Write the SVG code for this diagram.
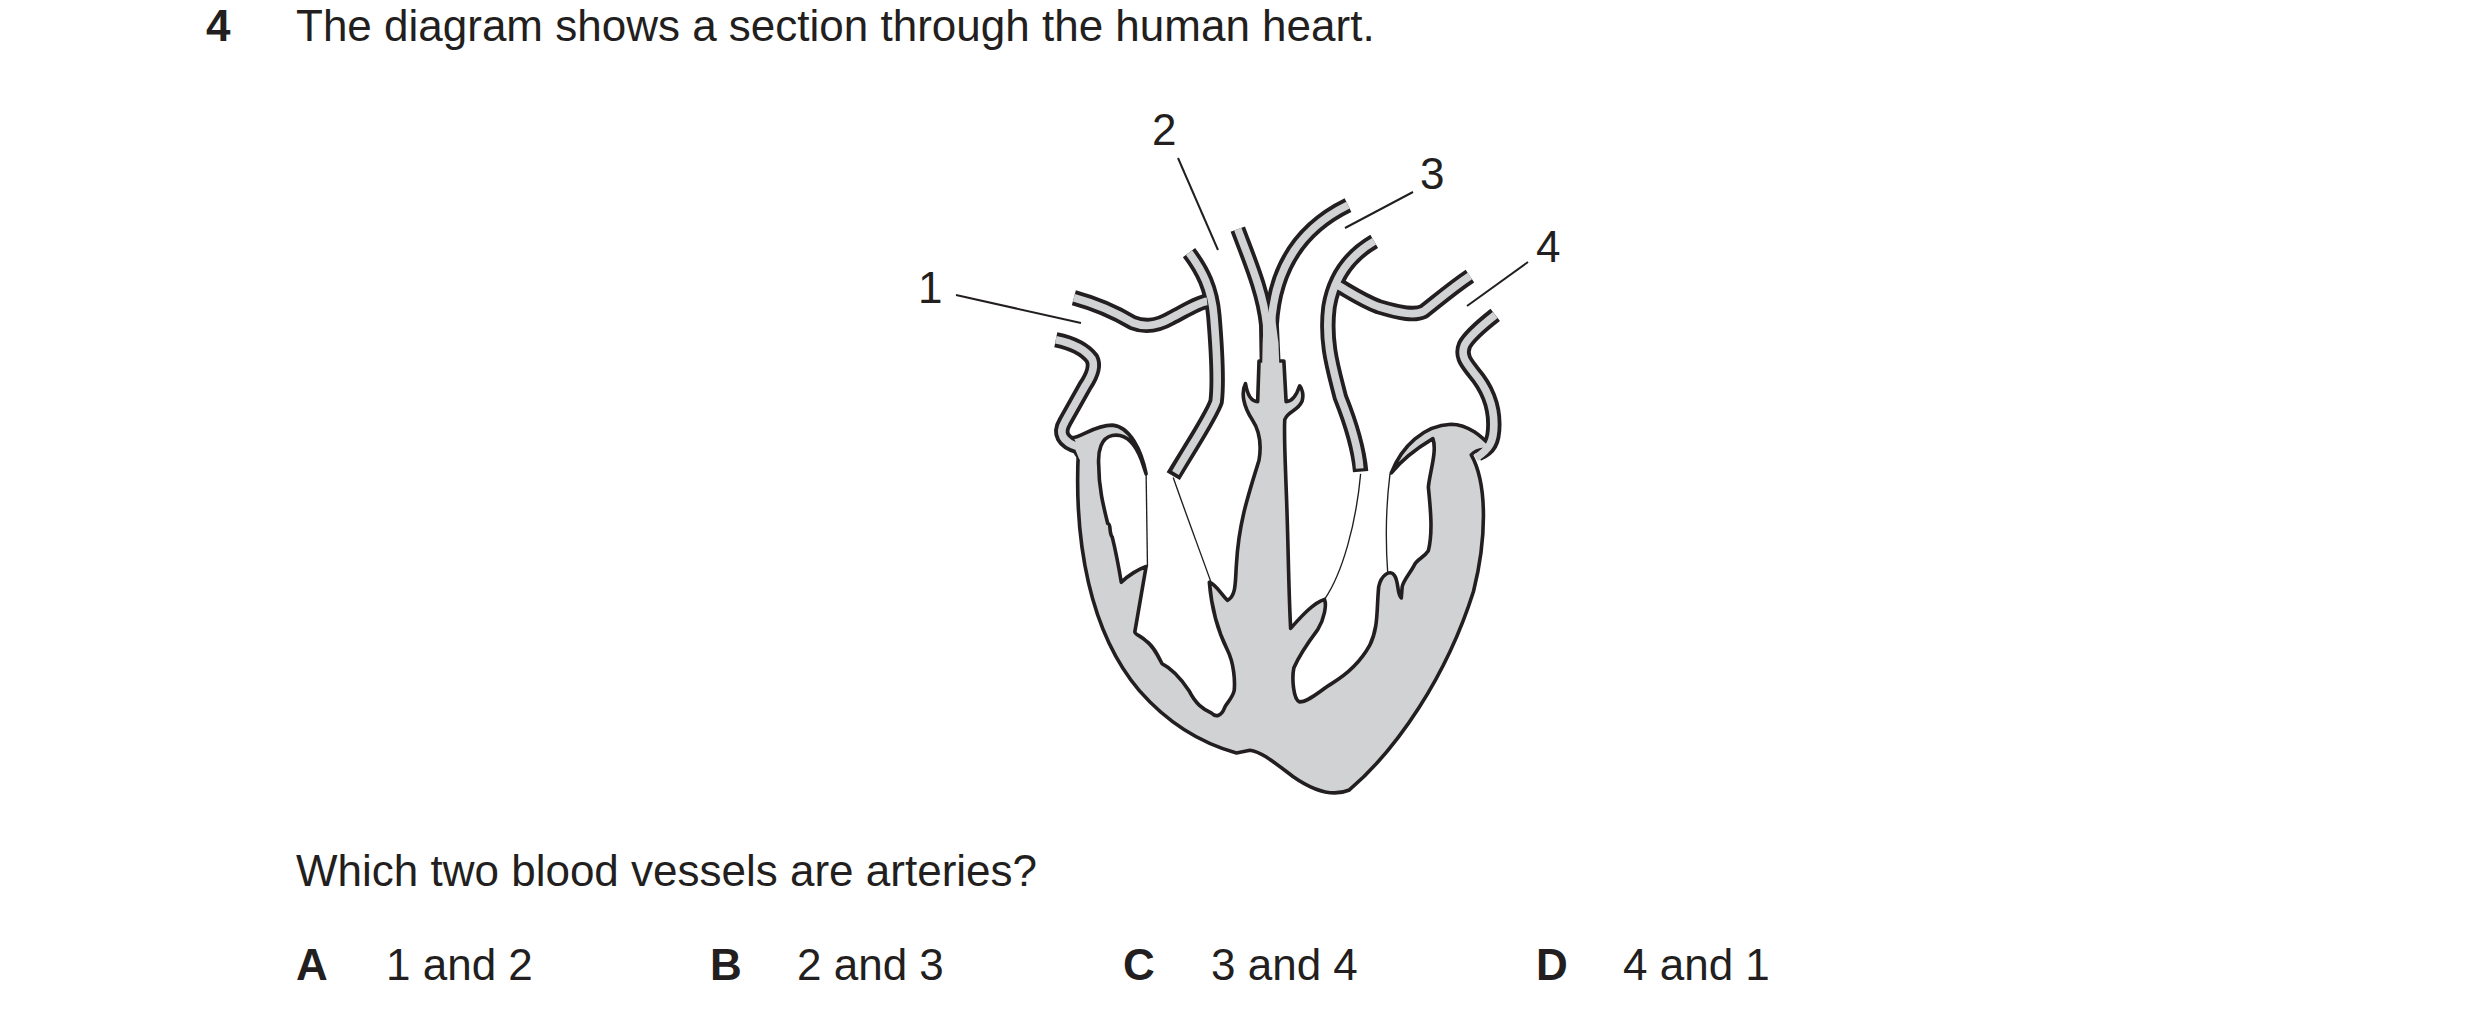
<svg xmlns="http://www.w3.org/2000/svg" width="2480" height="1023" viewBox="0 0 2480 1023">
<style>
.t{font-family:"Liberation Sans",Arial,sans-serif;font-size:44px;fill:#231f20}
.b{font-weight:bold}
.vb{fill:none;stroke:#231f20;stroke-width:34}
.vg{fill:none;stroke:#d1d2d4;stroke-width:17}
.ptr{stroke:#231f20;stroke-width:2}
.valve{fill:none;stroke:#231f20;stroke-width:3}
</style>
<rect width="2480" height="1023" fill="#fff"/>
<g id="question">
<text class="t b" x="206" y="41">4</text>
<text class="t" x="296" y="41">The diagram shows a section through the human heart.</text>
<text class="t" x="296" y="886">Which two blood vessels are arteries?</text>
</g>
<g id="heart" transform="translate(900,90) scale(0.4516)">
<g id="vessels-outline">
<path class="vb" d="M385,460 C440,475 490,500 515,515 C540,525 565,525 600,505 C630,490 660,470 680,468"/>
<path class="vb" d="M345,553 C380,560 410,575 425,595 C435,615 420,640 410,655 L365,735 C350,760 360,780 395,790 L405,805"/>
<path class="vb" d="M640,360 C670,400 690,440 695,500 C700,560 705,650 700,690 C690,720 650,780 605,855"/>
<path class="vb" d="M748,308 C775,380 805,450 812,520 L815,700"/>
<path class="vb" d="M992,255 C900,300 830,380 822,520 L830,700"/>
<path class="vb" d="M1050,335 C990,370 960,420 950,480 C940,560 960,620 975,680 C995,730 1015,790 1020,845"/>
<path class="vb" d="M1262,412 C1220,440 1180,475 1160,490 C1140,500 1110,495 1060,480 C1020,465 985,440 965,430"/>
<path class="vb" d="M1318,498 C1290,520 1260,545 1250,565 C1240,590 1255,605 1270,625 C1300,660 1315,700 1315,740 C1315,780 1305,795 1280,805"/>
</g>
<path id="body" fill="#d1d2d4" stroke="#231f20" stroke-width="8" stroke-linejoin="round" d="M395,800 C385,1000 420,1200 530,1330 C600,1410 680,1450 745,1468 L775,1462 C800,1465 830,1490 870,1520 C920,1555 960,1565 995,1550 C1100,1460 1210,1300 1270,1110 C1300,990 1300,870 1265,808 C1280,790 1300,800 1310,790 C1290,770 1260,740 1220,740 C1160,742 1110,790 1088,848 C1110,820 1150,790 1180,772 C1190,800 1172,850 1170,880 C1175,930 1180,980 1170,1020 C1160,1035 1145,1040 1140,1050 C1130,1070 1115,1085 1112,1100 L1110,1125 C1100,1115 1105,1090 1095,1075 C1085,1060 1065,1075 1060,1100 C1055,1150 1060,1190 1040,1230 C1015,1275 980,1300 955,1315 C930,1330 905,1355 885,1355 C870,1350 868,1300 872,1280 C885,1250 910,1215 925,1195 C940,1170 945,1140 940,1128 C915,1135 885,1170 865,1192 C860,1100 860,1000 855,880 C853,820 850,760 852,730 C860,710 880,712 890,690 C895,675 890,660 885,655 C880,670 870,690 855,690 L850,600 L795,600 L792,690 C780,690 770,680 765,650 C755,670 760,700 780,730 C800,760 800,790 795,820 C770,900 750,960 745,1050 C742,1090 745,1120 725,1130 C710,1115 700,1095 685,1090 C690,1150 705,1200 725,1240 C740,1270 742,1310 740,1330 C735,1350 720,1360 718,1370 C712,1385 700,1390 690,1380 C670,1370 655,1360 640,1330 C620,1300 600,1280 580,1270 C570,1250 560,1230 545,1220 C535,1210 520,1205 520,1200 L545,1055 C530,1060 505,1075 490,1090 C485,1060 480,1030 470,990 C462,980 468,960 460,960 C450,920 440,880 440,830 C438,800 445,770 470,765 C500,760 520,780 535,820 L545,850 C535,800 510,745 470,742 C430,742 400,770 380,770 Z"/>
<g id="vessels-fill">
<path class="vg" d="M385,460 C440,475 490,500 515,515 C540,525 565,525 600,505 C630,490 660,470 680,468"/>
<path class="vg" d="M345,553 C380,560 410,575 425,595 C435,615 420,640 410,655 L365,735 C350,760 360,780 395,790 L405,815"/>
<path class="vg" d="M640,360 C670,400 690,440 695,500 C700,560 705,650 700,690 C690,720 650,780 610,848"/>
<path class="vg" d="M748,308 C775,380 805,450 812,520 L815,700"/>
<path class="vg" d="M992,255 C900,300 830,380 822,520 L830,700"/>
<path class="vg" d="M1050,335 C990,370 960,420 950,480 C940,560 960,620 975,680 C995,730 1015,790 1018,838"/>
<path class="vg" d="M1262,412 C1220,440 1180,475 1160,490 C1140,500 1110,495 1060,480 C1020,465 985,440 965,430"/>
<path class="vg" d="M1318,498 C1290,520 1260,545 1250,565 C1240,590 1255,605 1270,625 C1300,660 1315,700 1315,740 C1315,780 1305,795 1275,815"/>
<polygon points="806,500 830,500 838,560 844,710 800,710 803,560" fill="#d1d2d4"/>
</g>
<g id="valves">
<path class="valve" d="M605,858 C630,930 660,1010 688,1088"/>
<path class="valve" d="M545,850 L548,1055"/>
<path class="valve" d="M1020,850 C1010,960 980,1070 940,1128"/>
<path class="valve" d="M1085,850 C1075,930 1075,1000 1080,1070"/>
</g>
</g>
<g id="labels">
<text class="t" x="918" y="303">1</text>
<text class="t" x="1152" y="145">2</text>
<text class="t" x="1420" y="189">3</text>
<text class="t" x="1536" y="262">4</text>
</g>
<g id="connectors">
<line class="ptr" x1="956" y1="295" x2="1081" y2="323"/>
<line class="ptr" x1="1178" y1="158" x2="1218" y2="250"/>
<line class="ptr" x1="1413" y1="192" x2="1345" y2="228"/>
<line class="ptr" x1="1528" y1="262" x2="1467" y2="306"/>
</g>
<g id="options">
<text class="t b" x="296" y="980">A</text>
<text class="t" x="386" y="980">1 and 2</text>
<text class="t b" x="710" y="980">B</text>
<text class="t" x="797" y="980">2 and 3</text>
<text class="t b" x="1123" y="980">C</text>
<text class="t" x="1211" y="980">3 and 4</text>
<text class="t b" x="1536" y="980">D</text>
<text class="t" x="1623" y="980">4 and 1</text>
</g>
</svg>
